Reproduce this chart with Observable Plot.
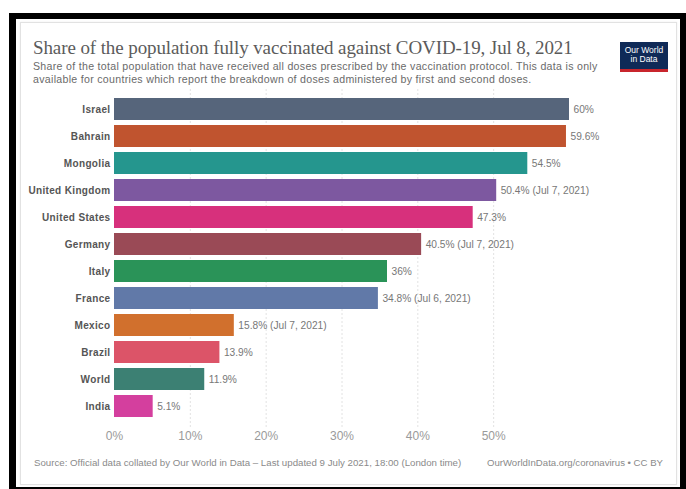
<!DOCTYPE html>
<html>
<head>
<meta charset="utf-8">
<script src="https://cdn.jsdelivr.net/npm/d3@7"></script>
<script src="https://cdn.jsdelivr.net/npm/@observablehq/plot@0.6"></script>
<style>
  html, body { margin: 0; padding: 0; background: #fff; width: 686px; height: 489px; overflow: hidden; }
  #frame { position: absolute; left: 9px; top: 13px; width: 677px; height: 476px; background: #000; }
  #paper { position: absolute; left: 16px; top: 19px; width: 664px; height: 468px; background: #fff; }
  #panel { position: absolute; left: 20px; top: 22px; width: 655px; height: 461px; border: 1px solid #e2e2e2; background: #fff; box-shadow: 0 0 2px #eee; }
  .t { position: absolute; white-space: nowrap; font-family: "Liberation Sans", Arial, sans-serif; }
  #title { left: 33px; top: 37px; font-family: "Liberation Serif", "Times New Roman", serif; font-size: 19px; letter-spacing: -0.1px; color: #5b5b5b; }
  #sub { left: 33px; top: 60px; font-size: 10.6px; letter-spacing: 0.3px; line-height: 13px; color: #6a6a6a; }
  #logo { position: absolute; left: 620px; top: 42px; width: 48px; background: #0f2a57; border-bottom: 3px solid #c8252c; color: #fff; font-family: "Liberation Sans", Arial, sans-serif; font-size: 8.5px; line-height: 9px; text-align: center; padding-top: 4px; height: 23px; }
  #chart { position: absolute; left: 20px; top: 80px; }
  #chart g[aria-label="y-axis tick label"] text { letter-spacing: 0.35px; }
  #src { left: 34px; top: 457px; font-size: 9.7px; color: #8a8a8a; }
  #url { left: 487px; top: 457px; font-size: 9.6px; color: #8a8a8a; }
</style>
</head>
<body>
<div id="frame"></div>
<div id="paper"></div>
<div id="panel"></div>
<div class="t" id="title">Share of the population fully vaccinated against COVID-19, Jul 8, 2021</div>
<div class="t" id="sub">Share of the total population that have received all doses prescribed by the vaccination protocol. This data is only<br>available for countries which report the breakdown of doses administered by first and second doses.</div>
<div id="logo">Our World<br>in Data</div>
<div id="chart"></div>
<div class="t" id="src">Source: Official data collated by Our World in Data – Last updated 9 July 2021, 18:00 (London time)</div>
<div class="t" id="url">OurWorldInData.org/coronavirus • CC BY</div>
<script>
const countries = ["Israel", "Bahrain", "Mongolia", "United Kingdom", "United States", "Germany", "Italy", "France", "Mexico", "Brazil", "World", "India"];
const shares = [60, 59.6, 54.5, 50.4, 47.3, 40.5, 36, 34.8, 15.8, 13.9, 11.9, 5.1];
const notes = ["", "", "", " (Jul 7, 2021)", "", " (Jul 7, 2021)", "", " (Jul 6, 2021)", " (Jul 7, 2021)", "", "", ""];
const colors = ["#56657b", "#c0542f", "#25968e", "#7d58a0", "#d7307c", "#9a4a56", "#2a9358", "#6179a8", "#d1702d", "#dc5468", "#3c8073", "#d43f9e"];
const xTicks = [0, 10, 20, 30, 40, 50];
const gridTicks = [10, 20, 30, 40, 50];

const data = countries.map((c, i) => ({
  country: c,
  value: shares[i],
  label: shares[i] + "%" + notes[i],
  color: colors[i]
}));

const chart = Plot.plot({
  width: 640,
  height: 370,
  marginLeft: 94,
  marginRight: 91,
  marginTop: 12,
  marginBottom: 27,
  style: { fontFamily: "'Liberation Sans', Arial, sans-serif", background: "transparent" },
  x: { domain: [0, 60], axis: null },
  y: { domain: countries, padding: 0.2, axis: null },
  marks: [
    Plot.ruleX(gridTicks, { stroke: "#e2e2e2", strokeDasharray: "2,2", strokeWidth: 1, insetTop: -3, insetBottom: -4 }),
    Plot.barX(data, { y: "country", x: "value", fill: "color" }),
    Plot.text(data, { y: "country", x: "value", text: "label", textAnchor: "start", dx: 4, fontSize: 10.2, fill: "#777" }),
    Plot.axisY({ tickSize: 0, tickPadding: 4, fontSize: 10, fontWeight: "bold", color: "#555", label: null }),
    Plot.axisX(xTicks, { tickSize: 0, tickPadding: 8, fontSize: 12, color: "#9a9a9a", tickFormat: d => d + "%", label: null })
  ]
});
document.getElementById("chart").appendChild(chart);
</script>
</body>
</html>
